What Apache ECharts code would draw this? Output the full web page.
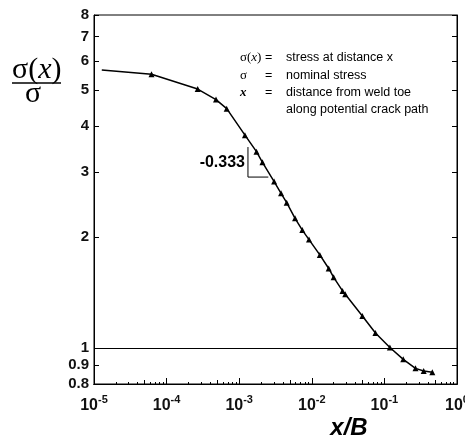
<!DOCTYPE html>
<html>
<head>
<meta charset="utf-8">
<script src="https://cdn.jsdelivr.net/npm/echarts@6/dist/echarts.min.js"></script>
<style>html,body{margin:0;padding:0;background:#fff}#c{width:465px;height:439px}</style>
</head>
<body>
<div id="c"></div>
<script>
// ---- data ----
const xVals = [1.28e-5, 6.2e-5, 2.68e-4, 4.79e-4, 6.73e-4, 1.20e-3, 1.73e-3, 2.09e-3, 3.03e-3, 3.77e-3, 4.51e-3, 5.88e-3, 7.40e-3, 9.15e-3, 1.29e-2, 1.71e-2, 2.00e-2, 2.65e-2, 2.89e-2, 4.97e-2, 7.53e-2, 0.119, 0.182, 0.268, 0.348, 0.457];
const yVals = [5.68, 5.53, 5.04, 4.72, 4.46, 3.78, 3.41, 3.19, 2.83, 2.63, 2.48, 2.25, 2.09, 1.97, 1.79, 1.645, 1.557, 1.43, 1.40, 1.223, 1.10, 1.005, 0.933, 0.882, 0.868, 0.861];
const yTickVals = [0.8, 0.9, 1, 2, 3, 4, 5, 6, 7, 8];
const xMajorTicks = [1e-5, 1e-4, 1e-3, 1e-2, 1e-1, 1];
const xMidTicks = [5e-5, 5e-4, 5e-3, 5e-2, 5e-1];
const xMinorTicks = [];
[1e-5, 1e-4, 1e-3, 1e-2, 1e-1].forEach(d => [2,3,4,6,7,8,9].forEach(m => xMinorTicks.push(+(m*d).toPrecision(3))));
const slopeTriX = [1.32e-3, 1.32e-3, 2.52e-3];
const slopeTriY = [3.51, 2.91, 2.91];
const slopeLabel = '-0.333';
const refLineY = 1;

const chart = echarts.init(document.getElementById('c'));
const curveData = xVals.map((x, i) => i === 0 ? {value: [x, yVals[i]], symbol: 'none'} : [x, yVals[i]]);
const triData = slopeTriX.map((x, i) => [x, slopeTriY[i]]);

function xAxisBase(extra) {
  return Object.assign({
    type: 'log', logBase: 10, min: 1e-5, max: 1, position: 'bottom',
    axisLine: {show: true, onZero: false, lineStyle: {color: '#000', width: 1}},
    splitLine: {show: false}, minorTick: {show: false}
  }, extra);
}
const black = '#111';
chart.setOption({
  animation: false,
  backgroundColor: '#fff',
  grid: {left: 94, right: 8, top: 15, bottom: 55, show: true, borderColor: '#000', borderWidth: 1, containLabel: false, outerBoundsMode: 'none'},
  xAxis: [
    xAxisBase({
      axisTick: {show: true, inside: true, length: 6, customValues: xMajorTicks, lineStyle: {color: '#000'}},
      axisLabel: {
        show: true, customValues: xMajorTicks, margin: 10, color: black, hideOverlap: false,
        formatter: v => '{b|10}{s|' + Math.round(Math.log10(v)) + '}',
        rich: {
          b: {fontFamily: 'Liberation Sans', fontWeight: 'bold', fontSize: 16, color: black, verticalAlign: 'bottom', lineHeight: 20},
          s: {fontFamily: 'Liberation Sans', fontWeight: 'bold', fontSize: 11, color: black, verticalAlign: 'top', lineHeight: 20, padding: [0,0,8,0]}
        }
      }
    }),
    xAxisBase({axisTick: {show: true, inside: true, length: 4, customValues: xMidTicks, lineStyle: {color: '#000'}}, axisLabel: {show: false}}),
    xAxisBase({axisTick: {show: true, inside: true, length: 2, customValues: xMinorTicks, lineStyle: {color: '#000'}}, axisLabel: {show: false}})
  ],
  yAxis: [
    {
      type: 'log', logBase: 10, min: 0.8, max: 8, position: 'left',
      axisLine: {show: true, onZero: false, lineStyle: {color: '#000', width: 1}},
      axisTick: {show: true, inside: true, length: 5, customValues: yTickVals, lineStyle: {color: '#000'}},
      axisLabel: {show: true, customValues: yTickVals, margin: 5, color: black, fontFamily: 'Liberation Sans', fontWeight: 'bold', fontSize: 15,
        formatter: v => String(+(+v).toPrecision(2))},
      splitLine: {show: false}, minorTick: {show: false}
    },
    {
      type: 'log', logBase: 10, min: 0.8, max: 8, position: 'right',
      axisLine: {show: true, onZero: false, lineStyle: {color: '#000', width: 1}},
      axisTick: {show: true, inside: true, length: 5, customValues: yTickVals, lineStyle: {color: '#000'}},
      axisLabel: {show: false}, splitLine: {show: false}, minorTick: {show: false}
    }
  ],
  series: [
    {
      type: 'line', xAxisIndex: 0, yAxisIndex: 0, data: curveData,
      symbol: 'triangle', symbolSize: 6, showSymbol: true,
      lineStyle: {color: '#000', width: 1.5}, itemStyle: {color: '#000'},
      markLine: {silent: true, symbol: 'none', label: {show: false},
        lineStyle: {color: '#000', type: 'solid', width: 1}, data: [{yAxis: refLineY}]}
    },
    {
      type: 'line', xAxisIndex: 0, yAxisIndex: 0, data: triData, symbol: 'none',
      lineStyle: {color: '#000', width: 1}, silent: true
    }
  ],
  graphic: [
    {type: 'text', left: 12, top: 55, style: {text: '{a|σ(}{i|x}{a|)}', rich: {
      a: {fontFamily: 'Liberation Serif', fontSize: 30, fill: '#000'},
      i: {fontFamily: 'Liberation Serif', fontStyle: 'italic', fontSize: 30, fill: '#000'}}}},
    {type: 'line', shape: {x1: 12, y1: 83, x2: 61, y2: 83}, style: {stroke: '#000', lineWidth: 1.5}},
    {type: 'text', left: 25, top: 79, style: {text: 'σ', fontFamily: 'Liberation Serif', fontSize: 30, fill: '#000'}},
    {type: 'text', x: 349, y: 428, style: {text: 'x/B', fontFamily: 'Liberation Sans', fontStyle: 'italic', fontWeight: 'bold', fontSize: 24, fill: '#000', align: 'center', verticalAlign: 'middle'}},
    {type: 'text', x: 245, y: 163, style: {text: slopeLabel, fontFamily: 'Liberation Sans', fontWeight: 'bold', fontSize: 16, fill: '#000', align: 'right', verticalAlign: 'middle'}},
    {type: 'text', x: 240, y: 58, style: {text: '{a|σ(}{i|x}{a|)}', verticalAlign: 'middle', rich: {
      a: {fontFamily: 'Liberation Serif', fontSize: 13, fill: '#000'},
      i: {fontFamily: 'Liberation Serif', fontStyle: 'italic', fontSize: 13, fill: '#000'}}}},
    {type: 'text', x: 240, y: 76, style: {text: 'σ', fontFamily: 'Liberation Serif', fontSize: 13, fill: '#000', verticalAlign: 'middle'}},
    {type: 'text', x: 240, y: 93, style: {text: 'x', fontFamily: 'Liberation Serif', fontStyle: 'italic', fontWeight: 'bold', fontSize: 13, fill: '#000', verticalAlign: 'middle'}},
    {type: 'text', x: 265, y: 58, style: {text: '=', fontFamily: 'Liberation Sans', fontSize: 12.5, fill: '#000', verticalAlign: 'middle'}},
    {type: 'text', x: 265, y: 76, style: {text: '=', fontFamily: 'Liberation Sans', fontSize: 12.5, fill: '#000', verticalAlign: 'middle'}},
    {type: 'text', x: 265, y: 93, style: {text: '=', fontFamily: 'Liberation Sans', fontSize: 12.5, fill: '#000', verticalAlign: 'middle'}},
    {type: 'text', x: 286, y: 58, style: {text: 'stress at distance x', fontFamily: 'Liberation Sans', fontSize: 12.5, fill: '#000', verticalAlign: 'middle'}},
    {type: 'text', x: 286, y: 76, style: {text: 'nominal stress', fontFamily: 'Liberation Sans', fontSize: 12.5, fill: '#000', verticalAlign: 'middle'}},
    {type: 'text', x: 286, y: 93, style: {text: 'distance from weld toe', fontFamily: 'Liberation Sans', fontSize: 12.5, fill: '#000', verticalAlign: 'middle'}},
    {type: 'text', x: 286, y: 110, style: {text: 'along potential crack path', fontFamily: 'Liberation Sans', fontSize: 12.5, fill: '#000', verticalAlign: 'middle'}}
  ]
});
</script>
</body>
</html>
